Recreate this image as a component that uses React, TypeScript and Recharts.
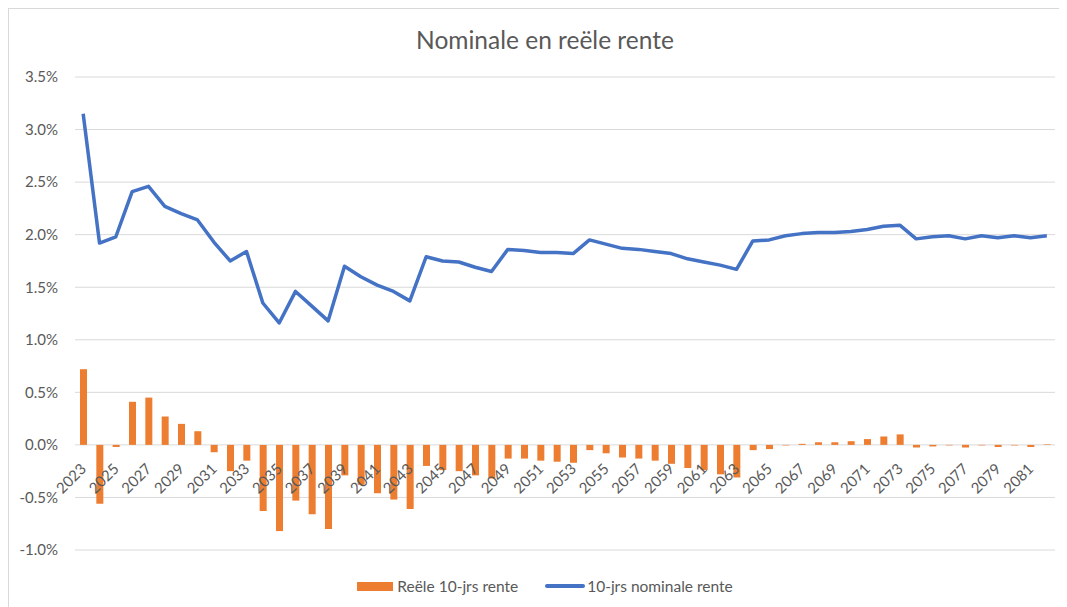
import { ComposedChart, Bar, Line, XAxis, YAxis, CartesianGrid, Legend } from 'recharts';

const years = [
  '2023', '2024', '2025', '2026', '2027', '2028', '2029', '2030', '2031', '2032',
  '2033', '2034', '2035', '2036', '2037', '2038', '2039', '2040', '2041', '2042',
  '2043', '2044', '2045', '2046', '2047', '2048', '2049', '2050', '2051', '2052',
  '2053', '2054', '2055', '2056', '2057', '2058', '2059', '2060', '2061', '2062',
  '2063', '2064', '2065', '2066', '2067', '2068', '2069', '2070', '2071', '2072',
  '2073', '2074', '2075', '2076', '2077', '2078', '2079', '2080', '2081', '2082',
];

// 10-jrs nominale rente (%)
const nominal = [
  3.15, 1.92, 1.98, 2.41, 2.46, 2.27, 2.2, 2.14, 1.93, 1.75,
  1.84, 1.35, 1.16, 1.46, 1.32, 1.18, 1.7, 1.6, 1.52, 1.46,
  1.37, 1.79, 1.75, 1.74, 1.69, 1.65, 1.86, 1.85, 1.83, 1.83,
  1.82, 1.95, 1.91, 1.87, 1.86, 1.84, 1.82, 1.77, 1.74, 1.71,
  1.67, 1.94, 1.95, 1.99, 2.01, 2.02, 2.02, 2.03, 2.05, 2.08,
  2.09, 1.96, 1.98, 1.99, 1.96, 1.99, 1.97, 1.99, 1.97, 1.99,
];

// Reële 10-jrs rente (%)
const real = [
  0.72, -0.56, -0.02, 0.41, 0.45, 0.27, 0.2, 0.13, -0.07, -0.25,
  -0.15, -0.63, -0.82, -0.53, -0.66, -0.8, -0.29, -0.38, -0.46, -0.52,
  -0.61, -0.2, -0.24, -0.25, -0.29, -0.32, -0.13, -0.13, -0.15, -0.16,
  -0.17, -0.05, -0.08, -0.12, -0.13, -0.15, -0.18, -0.22, -0.24, -0.28,
  -0.31, -0.05, -0.04, -0.005, 0.01, 0.025, 0.025, 0.035, 0.055, 0.08,
  0.1, -0.025, -0.015, -0.005, -0.025, -0.005, -0.02, -0.005, -0.02, 0.005,
];

const yTicks = [-1, -0.5, 0, 0.5, 1, 1.5, 2, 2.5, 3, 3.5];

const data = years.map((year, i) => ({ year, real: real[i], nominal: nominal[i] }));

const BLUE = '#4472C4';
const ORANGE = '#ED7D31';
const GRID = '#D9D9D9';
const TEXT = '#595959';
const FONT = 'Lato, "Open Sans", sans-serif';

const W = 1058;
const H = 598;
const TOP = 68;
const PLOT_H = 473;
// category labels sit on the zero line, as in the Excel original
const ZERO_Y = TOP + (PLOT_H * 3.5) / 4.5;

function YearTick({ x, payload }: any) {
  const tx = x + 4;
  const ty = ZERO_Y + 25;
  return (
    <text x={tx} y={ty} transform={`rotate(-45, ${tx}, ${ty})`} textAnchor="end" fill={TEXT} fontSize={15} fontFamily={FONT}>
      {payload.value}
    </text>
  );
}

function LegendBox() {
  return (
    <div style={{ display: 'flex', justifyContent: 'center', alignItems: 'center', height: 20, fontFamily: FONT, fontSize: 15.5, color: TEXT }}>
      <span style={{ display: 'inline-block', width: 36, height: 9, background: ORANGE, marginRight: 4 }} />
      <span>Reële 10-jrs rente</span>
      <span style={{ display: 'inline-block', width: 40, height: 4, borderRadius: 2, background: BLUE, marginLeft: 27, marginRight: 2 }} />
      <span>10-jrs nominale rente</span>
    </div>
  );
}

export default function App() {
  return (
    <div style={{ position: 'relative', width: 1073, height: H + 1, borderTop: `1px solid ${GRID}`, borderLeft: `1px solid ${GRID}`, boxSizing: 'border-box', overflow: 'hidden', background: '#fff' }}>
      <style>{'html, body { overflow: hidden; }'}</style>
      <div style={{ position: 'absolute', left: 0, top: 16, width: 1072, textAlign: 'center', fontFamily: FONT, fontSize: 24.5, color: TEXT }}>
        Nominale en reële rente
      </div>
      <ComposedChart width={W} height={H} data={data} margin={{ top: TOP, right: 12, left: 0, bottom: 11 }}>
        <CartesianGrid vertical={false} stroke={GRID} strokeWidth={1} />
        <XAxis dataKey="year" interval={1} axisLine={false} tickLine={false} height={26} tick={<YearTick />} />
        <YAxis
          width={66}
          domain={[-1, 3.5]}
          ticks={yTicks}
          axisLine={false}
          tickLine={false}
          tickSize={0}
          tickMargin={17}
          tickFormatter={(v: number) => `${v.toFixed(1)}%`}
          tick={{ fill: TEXT, fontSize: 15, fontFamily: FONT }}
        />
        <Legend verticalAlign="bottom" content={<LegendBox />} wrapperStyle={{ left: 0, width: 1072, top: 567, bottom: 'auto' }} />
        <Bar dataKey="real" name="Reële 10-jrs rente" fill={ORANGE} barSize={7} isAnimationActive={false} />
        <Line dataKey="nominal" name="10-jrs nominale rente" type="linear" stroke={BLUE} strokeWidth={3.5} dot={false} strokeLinejoin="round" isAnimationActive={false} />
      </ComposedChart>
    </div>
  );
}
